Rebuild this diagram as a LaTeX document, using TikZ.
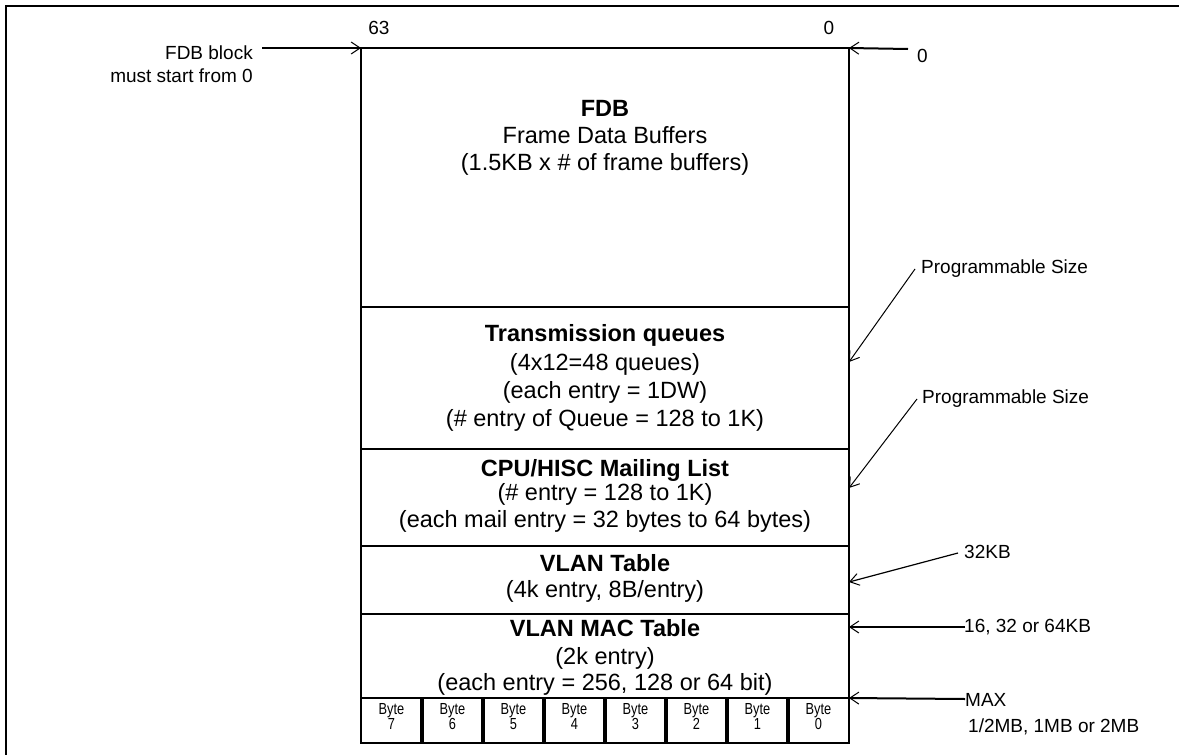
\documentclass[tikz,border=0pt]{standalone}
\usepackage{fontspec}
\setmainfont{Liberation Sans}
\newfontfamily\narrowfont[FakeStretch=0.8]{Liberation Sans}
\usetikzlibrary{arrows.meta}
\begin{document}
\begin{tikzpicture}[x=1pt,y=-1pt,
  box/.style={draw, line width=2.7pt, minimum width=488pt, inner sep=0pt, outer sep=0pt, anchor=north west},
  big/.style={font=\fontsize{23.5}{27}\selectfont, inner sep=0pt, anchor=base},
  small/.style={font=\fontsize{19}{22}\selectfont, inner sep=0pt},
  bytecell/.style={draw, line width=2.7pt, minimum width=61pt, minimum height=45pt, inner sep=0pt, outer sep=0pt, anchor=north west},
  bytetxt/.style={font=\narrowfont\fontsize{16}{15.5}\selectfont, inner sep=0pt, align=center},
  sepline/.style={line width=4pt},
  arr/.style={-{Straight Barb[length=9pt,width=12pt,line width=1pt]}},
]
\useasboundingbox (0,0) rectangle (1179,755);
% outer frame
\draw[line width=2.6pt] (6,755) -- (6,6) -- (1179,6);

% memory sections
\node[box, minimum height=259pt] (fdb) at (361,48) {};
\node[box, minimum height=142pt] (trq) at (361,307) {};
\node[box, minimum height=97pt] (cpu) at (361,449) {};
\node[box, minimum height=68pt] (vlan) at (361,546) {};
\node[box, minimum height=84pt] (mac) at (361,614) {};

% byte row
\foreach \i in {0,...,7} {
  \pgfmathtruncatemacro{\d}{7-\i}
  \node[bytecell] (b\d) at ({361+61*\i},698) {};
  \node[bytetxt] (bt\d) at ({391.5+61*\i},716.5) {Byte\\\d};
}
\foreach \d in {7,...,1} \draw[sepline] (b\d.north east) -- (b\d.south east);

% section texts
\node[big] (f1) at (605,116) {\textbf{FDB}};
\node[big] (f2) at (605,143) {Frame Data Buffers};
\node[big] (f3) at (605,170) {(1.5KB x \# of frame buffers)};
\node[big] (t1) at (605,341) {\textbf{Transmission queues}};
\node[big] (t2) at (605,370) {(4x12=48 queues)};
\node[big] (t3) at (605,398) {(each entry = 1DW)};
\node[big] (t4) at (605,426) {(\# entry of Queue = 128 to 1K)};
\node[big] (c1) at (605,476) {\textbf{CPU/HISC Mailing List}};
\node[big] (c2) at (605,500) {(\# entry = 128 to 1K)};
\node[big] (c3) at (605,527) {(each mail entry = 32 bytes to 64 bytes)};
\node[big] (v1) at (605,571) {\textbf{VLAN Table}};
\node[big] (v2) at (605,597) {(4k entry, 8B/entry)};
\node[big] (m1) at (605,636) {\textbf{VLAN MAC Table}};
\node[big] (m2) at (605,664) {(2k entry)};
\node[big] (m3) at (605,690) {(each entry = 256, 128 or 64 bit)};

% labels
\node[small, anchor=base east] (lfdb) at (253,59) {FDB block};
\node[small, anchor=base east] (lfdb2) at (253,82) {must start from 0};
\node[small, anchor=base] (l63) at (379,34) {63};
\node[small, anchor=base] (l0a) at (829,34) {0};
\node[small, anchor=base west] (l0b) at (917,62) {0};
\node[small, anchor=base west] (ps1) at (921,273) {Programmable Size};
\node[small, anchor=base west] (ps2) at (922,403) {Programmable Size};
\node[small, anchor=base west] (k32) at (964,558) {32KB};
\node[small, anchor=base west] (k64) at (964,632) {16, 32 or 64KB};
\node[small, anchor=base west] (kmax) at (965,706) {MAX};
\node[small, anchor=base west] (kmb) at (968,732) {1/2MB, 1MB or 2MB};

% arrow ends
\coordinate (s1) at (262,48);
\coordinate (s2) at (908,49);
\coordinate (s3) at (915,269);
\coordinate (e3) at (849,362);
\coordinate (s4) at (917,399);
\coordinate (e4) at (849,488);
\coordinate (s5) at (958,553);
\coordinate (e5) at (849,582);
\coordinate (s6) at (965,627);
\coordinate (e6) at (849,627);
\coordinate (s7) at (965,699);

\draw[arr, line width=2.2pt] (s1) -- (fdb.north west);
\draw[arr, line width=2pt] (s2) -- (fdb.north east);
\draw[arr, line width=1pt] (s3) -- (e3);
\draw[arr, line width=1pt] (s4) -- (e4);
\draw[arr, line width=1.2pt] (s5) -- (e5);
\draw[arr, line width=2pt] (s6) -- (e6);
\draw[arr, line width=2pt] (s7) -- (mac.south east);
\end{tikzpicture}
\end{document}
